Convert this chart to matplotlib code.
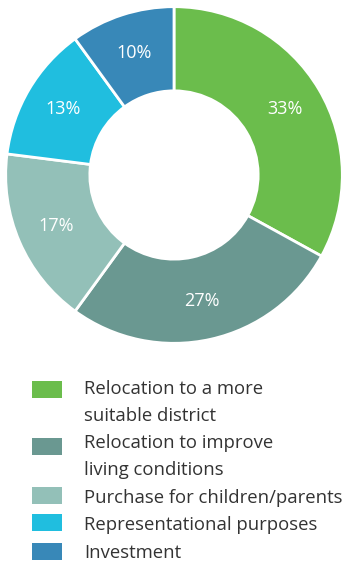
import numpy as np
import matplotlib.pyplot as plt
from matplotlib.patches import Rectangle

plt.rcParams['font.family'] = ['Open Sans', 'DejaVu Sans']

# reasons for buying a flat, share of respondents (%)
labels = ['Relocation to a more\nsuitable district',
          'Relocation to improve\nliving conditions',
          'Purchase for children/parents',
          'Representational purposes',
          'Investment']
shares = [33, 27, 17, 13, 10]
colors = ['#6bbd4c', '#6a9891', '#93c0b8', '#20bedf', '#3888b8']

W, H = 342, 564
fig = plt.figure(figsize=(W / 100, H / 100), dpi=100)

# donut
cx, cy, r = 174, 175, 170
ax = fig.add_axes([(cx - r) / W, (H - cy - r) / H, 2 * r / W, 2 * r / H])
wedges, _ = ax.pie(shares, colors=colors, startangle=90, counterclock=False,
                   radius=1, wedgeprops=dict(width=0.5, edgecolor='white', linewidth=2))
for w, v in zip(wedges, shares):
    ang = np.deg2rad((w.theta1 + w.theta2) / 2)
    ax.text(0.765 * np.cos(ang), 0.765 * np.sin(ang), f'{v}%', color='white',
            fontsize=13, ha='center', va='center')
ax.set_xlim(-1.01, 1.01)
ax.set_ylim(-1.01, 1.01)
ax.set_aspect('equal')
ax.axis('off')

# legend drawn by hand so the swatch sits on the first text line
patch_y = [389, 446, 495, 522, 551]
text_y = [389, 443, 498, 525, 553]
line_h = 27
for lab, col, py, ty in zip(labels, colors, patch_y, text_y):
    fig.add_artist(Rectangle((32 / W, (H - py - 8.5) / H), 30 / W, 17 / H,
                             transform=fig.transFigure, facecolor=col, edgecolor='none'))
    for i, line in enumerate(lab.split('\n')):
        fig.text(84 / W, (H - ty - i * line_h) / H, line, fontsize=13.3,
                 color='#333333', ha='left', va='center')

fig.savefig('out.png', dpi=100)
